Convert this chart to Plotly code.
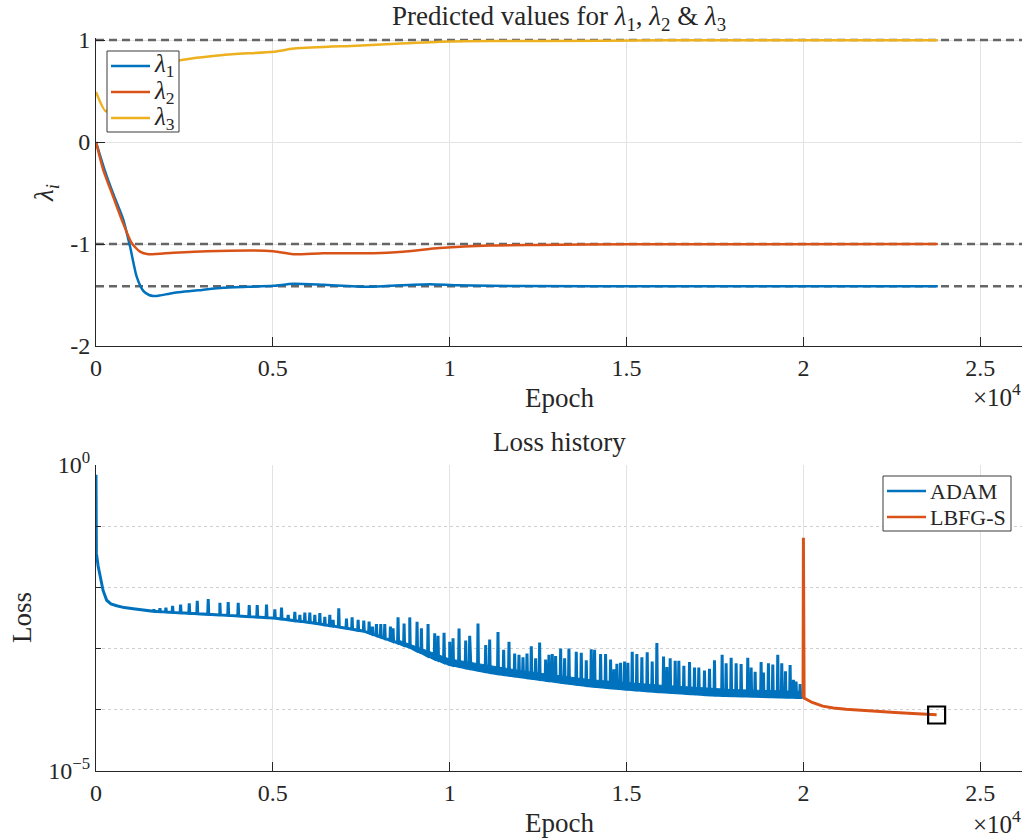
import numpy as np
import plotly.graph_objects as go

# ---------------- parameter estimates (top panel) ----------------
lam1_epoch = [0, 250, 500, 771, 960, 1150, 1337, 1500, 1620, 1800, 2180, 3000, 3600,
              5010, 5570, 6420, 7650, 8300, 9440, 10200, 12000, 16000, 23800]
lam1_value = [0, -0.28, -0.52, -0.76, -1.02, -1.32, -1.46, -1.50, -1.51, -1.505, -1.48,
              -1.45, -1.43, -1.41, -1.39, -1.40, -1.42, -1.41, -1.395, -1.405, -1.412,
              -1.414, -1.414]

lam2_epoch = [0, 207, 490, 771, 1008, 1243, 1478, 2184, 3126, 5008, 5573, 6421,
              7834, 8681, 9718, 11130, 12450, 15000, 23800]
lam2_value = [0, -0.275, -0.54, -0.80, -0.99, -1.075, -1.10, -1.085, -1.07, -1.07,
              -1.10, -1.09, -1.09, -1.075, -1.04, -1.015, -1.01, -1.003, -1.0]

lam3_epoch = [0, 282, 700, 1400, 2373, 3597, 5008, 5668, 7364, 8776, 9718, 11130,
              12500, 16000, 23800]
lam3_value = [0.49, 0.30, 0.55, 0.70, 0.80, 0.853, 0.885, 0.918, 0.944, 0.967,
              0.983, 0.99, 0.99, 0.997, 0.998]

# exact parameter values (dashed references)
true_values = [1.0, -1.0, -1.4142]

# ---------------- loss history (bottom panel), log10 of loss ----------------
adam_epoch = [0, 10, 60, 113, 200, 302, 420, 584, 800, 1054, 1620, 2500, 3500, 5000,
              6000, 6900, 7600, 8000, 8500, 8870, 9500, 10000, 10600, 11224, 12000,
              12636, 13300, 13955, 15556, 17438, 19980]
adam_log10 = [-0.16, -1.44, -1.65, -1.82, -2.05, -2.21, -2.27, -2.30, -2.33, -2.35,
              -2.39, -2.42, -2.45, -2.50, -2.57, -2.65, -2.72, -2.80, -2.90, -2.98,
              -3.15, -3.26, -3.33, -3.40, -3.46, -3.51, -3.56, -3.61, -3.69, -3.76,
              -3.80]

# upper edge of the dense oscillation band above the ADAM base curve
band_epoch = [8500, 10000, 12000, 14000, 16000, 18000, 19980]
band_log10 = [-2.85, -3.17, -3.36, -3.51, -3.60, -3.67, -3.70]

# loss spikes during ADAM: epoch and peak log10(loss)
spike_epoch = [1638, 1808, 1977, 2166, 2392, 2637, 2863, 3173, 3503, 3738, 4021, 4332,
               4558, 4821, 5056, 5245, 5433, 5621, 5763, 5904, 6045, 6186, 6328, 6469,
               6610, 6704, 6864, 7081, 7241, 7411, 7571, 7722,
               7815, 7928, 8051, 8164, 8324, 8399, 8540, 8710, 8870, 9077, 9200, 9388,
               9576, 9670, 9840, 10000, 10094, 10264, 10452, 10565, 10800, 11017, 11130,
               11365, 11525, 11676, 11836, 11959, 12072, 12185, 12307, 12429, 12542,
               12712, 12806, 12900, 12994, 13136, 13249, 13371, 13578, 13720, 13861,
               14002, 14096, 14266, 14407, 14548, 14642, 14727, 14831, 14944, 15037,
               15160, 15291, 15433, 15584, 15725, 15857, 16045, 16139, 16233, 16375,
               16478, 16620, 16780, 16921, 17043, 17203, 17345, 17486, 17702, 17815,
               17957, 18098, 18239, 18427, 18522, 18635, 18804, 18870, 19011, 19134,
               19275, 19388, 19492, 19624, 19718, 19793, 19906]
spike_log10 = [-2.36, -2.34, -2.33, -2.30, -2.28, -2.26, -2.22, -2.19, -2.25, -2.24,
               -2.25, -2.29, -2.29, -2.28, -2.36, -2.33, -2.45, -2.40, -2.45, -2.41,
               -2.41, -2.45, -2.42, -2.48, -2.45, -2.53, -2.34, -2.51, -2.49, -2.53,
               -2.54, -2.56,
               -2.64, -2.60, -2.60, -2.60, -2.64, -2.67, -2.49, -2.59, -2.49, -2.56,
               -2.67, -2.60, -2.75, -2.79, -2.74, -2.89, -2.83, -2.67, -2.87, -2.79,
               -2.59, -2.94, -2.85, -2.73, -3.02, -2.89, -3.08, -3.10, -3.14, -3.08,
               -2.96, -3.16, -2.90, -3.18, -3.10, -3.09, -3.12, -3.00, -3.16, -3.00,
               -3.05, -3.07, -3.19,
               -3.01, -3.02, -3.09, -3.09, -3.18, -3.34, -3.25, -3.23, -3.21, -3.23,
               -3.05, -3.09, -3.14, -3.06, -3.21, -2.91, -3.13, -3.30, -3.16, -3.20,
               -3.20, -3.28, -3.22, -3.31, -3.31, -3.36, -3.33, -3.19, -3.10, -3.24,
               -3.15, -3.24, -3.25, -3.15, -3.31, -3.38, -3.22, -3.39, -3.24, -3.26,
               -3.10, -3.24, -3.37, -3.27, -3.51, -3.54, -3.58]

lbfgs_epoch = [19990, 20000, 20020, 20250, 20546, 20850, 21205, 21650, 22147, 22600,
               23088, 23766]
lbfgs_log10 = [-3.79, -1.19, -3.81, -3.88, -3.94, -3.97, -3.99, -4.01, -4.03, -4.045,
               -4.06, -4.08]

final_epoch = [23766]
final_log10 = [-4.085]

# legend labels
top_names = ["<i>λ</i><sub>1</sub>", "<i>λ</i><sub>2</sub>", "<i>λ</i><sub>3</sub>"]
bottom_names = ["ADAM", "LBFG-S"]

# ---------------- styling ----------------
C_BLUE, C_RED, C_YEL = "#0072BD", "#D95319", "#EDB120"
INK = "#262626"
GRID = "#e3e3e3"
FONT = "Liberation Serif, DejaVu Serif, Times New Roman, serif"
FS = 24        # tick labels
FS_LAB = 27    # titles and axis labels
W, H = 1025, 838
XMAX = 26180
YTOP_PAD = 0.02   # small headroom so the dashed line at 1 is not clipped


def px_x(p):
    return p / W


def px_y(p):
    return 1 - p / H


# ADAM path: base curve with spikes rising from it
half = 14
ev_x = list(adam_epoch)
ev_y = list(adam_log10)
for e, pk in zip(spike_epoch, spike_log10):
    foot = float(np.interp(e, adam_epoch, adam_log10))
    ev_x += [e - half, e, e + half]
    ev_y += [foot, pk, foot]
order = np.argsort(np.array(ev_x), kind="stable")
adam_x = np.array(ev_x)[order]
adam_y = 10 ** np.array(ev_y)[order]

# band polygon: upper edge forward, ADAM base curve back
base_in = [(e, v) for e, v in zip(adam_epoch, adam_log10) if band_epoch[0] <= e <= band_epoch[-1]]
poly_x = list(band_epoch) + [e for e, _ in base_in][::-1]
poly_y = list(band_log10) + [v for _, v in base_in][::-1]

fig = go.Figure()

# top panel
for v in true_values:
    fig.add_trace(go.Scatter(x=[0, XMAX], y=[v, v], mode="lines",
                             line=dict(color="#666666", width=2.5, dash="8px,5px"),
                             showlegend=False, hoverinfo="skip",
                             xaxis="x", yaxis="y"))
for ex, vals, col, name in [(lam1_epoch, lam1_value, C_BLUE, top_names[0]),
                            (lam2_epoch, lam2_value, C_RED, top_names[1]),
                            (lam3_epoch, lam3_value, C_YEL, top_names[2])]:
    fig.add_trace(go.Scatter(x=ex, y=vals, mode="lines", name=name, showlegend=False,
                             line=dict(color=col, width=2.5, shape="spline", smoothing=0.6),
                             xaxis="x", yaxis="y"))

# bottom panel
fig.add_trace(go.Scatter(x=poly_x, y=10 ** np.array(poly_y), mode="lines", fill="toself",
                         fillcolor=C_BLUE, line=dict(color=C_BLUE, width=1),
                         showlegend=False, hoverinfo="skip", xaxis="x2", yaxis="y2"))
fig.add_trace(go.Scatter(x=adam_x, y=adam_y, mode="lines", name=bottom_names[0],
                         showlegend=False, line=dict(color=C_BLUE, width=3),
                         xaxis="x2", yaxis="y2"))
fig.add_trace(go.Scatter(x=lbfgs_epoch, y=10 ** np.array(lbfgs_log10), mode="lines",
                         name=bottom_names[1], showlegend=False,
                         line=dict(color=C_RED, width=3), xaxis="x2", yaxis="y2"))
fig.add_trace(go.Scatter(x=final_epoch, y=10 ** np.array(final_log10), mode="markers",
                         marker=dict(symbol="square-open", size=17, color="black",
                                     line=dict(width=2.2, color="black")),
                         showlegend=False, xaxis="x2", yaxis="y2"))

xdom = [px_x(96), px_x(1022)]
xticks = [0, 5000, 10000, 15000, 20000, 25000]
xlabels = ["0", "0.5", "1", "1.5", "2", "2.5"]

common_axis = dict(showline=True, linecolor=INK, linewidth=1, mirror=False,
                   ticks="inside", ticklen=9, tickcolor=INK, tickwidth=1,
                   zeroline=False, automargin=False,
                   tickfont=dict(family=FONT, size=FS, color=INK))

top_px = 40 - YTOP_PAD * (346 - 40) / 3.0

fig.update_layout(
    width=W, height=H,
    margin=dict(l=0, r=0, t=0, b=0),
    paper_bgcolor="white", plot_bgcolor="white",
    font=dict(family=FONT, size=FS, color=INK),
    showlegend=False,
    xaxis=dict(domain=xdom, anchor="y", range=[0, XMAX], tickmode="array",
               tickvals=xticks, ticktext=xlabels, showgrid=True, gridcolor=GRID,
               **common_axis),
    yaxis=dict(domain=[px_y(346), px_y(top_px)], anchor="x", range=[-2, 1 + YTOP_PAD],
               tickmode="array", tickvals=[-2, -1, 0, 1],
               ticktext=["-2", "-1", "0", "1"], showgrid=True, gridcolor=GRID,
               **common_axis),
    xaxis2=dict(domain=xdom, anchor="y2", range=[0, XMAX], tickmode="array",
                tickvals=xticks, ticktext=xlabels, showgrid=True, gridcolor=GRID,
                **common_axis),
    yaxis2=dict(domain=[px_y(771), px_y(465)], anchor="x2", type="log", range=[-5, 0],
                tickmode="array", tickvals=[1e-5, 1],
                ticktext=["10<sup>−5</sup>", "10<sup>0</sup>"],
                showgrid=True, gridcolor=GRID,
                minor=dict(tickmode="array", tickvals=[1e-4, 1e-3, 1e-2, 1e-1],
                           ticks="inside", ticklen=5, tickcolor=INK,
                           showgrid=True, gridcolor="#cfcfcf", griddash="dot"),
                **common_axis),
)

# legend boxes (drawn in page coordinates)
def legend_box(x0, y0, x1, y1, rows, line_x0, line_x1, text_x, colors, names, size):
    fig.add_shape(type="rect", xref="paper", yref="paper",
                  x0=px_x(x0), x1=px_x(x1), y0=px_y(y1), y1=px_y(y0),
                  fillcolor="white", line=dict(color="#3a3a3a", width=1), layer="above")
    for ry, col, name in zip(rows, colors, names):
        fig.add_shape(type="line", xref="paper", yref="paper",
                      x0=px_x(line_x0), x1=px_x(line_x1), y0=px_y(ry), y1=px_y(ry),
                      line=dict(color=col, width=2.5), layer="above")
        fig.add_annotation(text=name, xref="paper", yref="paper", showarrow=False,
                           x=px_x(text_x), y=px_y(ry), xanchor="left", yanchor="middle",
                           font=dict(family=FONT, size=size, color=INK))


legend_box(107, 51, 179, 132, [66, 92, 118], 111, 150, 152,
           [C_BLUE, C_RED, C_YEL], top_names, 25)
legend_box(883, 476, 1011, 531, [491, 517], 887, 926, 928,
           [C_BLUE, C_RED], bottom_names, 22)

ann = dict(xref="paper", yref="paper", showarrow=False,
           font=dict(family=FONT, size=FS_LAB, color=INK))
fig.add_annotation(text="Predicted values for <i>λ</i><sub>1</sub>, <i>λ</i><sub>2</sub> &amp; <i>λ</i><sub>3</sub>",
                   x=px_x(559), y=px_y(18), xanchor="center", yanchor="middle", **ann)
fig.add_annotation(text="Epoch", x=px_x(559), y=px_y(398), xanchor="center",
                   yanchor="middle", **ann)
fig.add_annotation(text="<i>λ<sub>i</sub></i>", x=px_x(46), y=px_y(193), textangle=-90,
                   xanchor="center", yanchor="middle", **ann)
fig.add_annotation(text="Loss history", x=px_x(559), y=px_y(442), xanchor="center",
                   yanchor="middle", **ann)
fig.add_annotation(text="Epoch", x=px_x(559), y=px_y(823), xanchor="center",
                   yanchor="middle", **ann)
fig.add_annotation(text="Loss", x=px_x(22), y=px_y(618), textangle=-90,
                   xanchor="center", yanchor="middle", **ann)

mult = dict(xref="paper", yref="paper", showarrow=False,
            font=dict(family=FONT, size=25, color=INK))
fig.add_annotation(text="×10<sup>4</sup>", x=px_x(1023), y=px_y(395), xanchor="right",
                   yanchor="middle", **mult)
fig.add_annotation(text="×10<sup>4</sup>", x=px_x(1023), y=px_y(822), xanchor="right",
                   yanchor="middle", **mult)

fig.write_html("out.html")
